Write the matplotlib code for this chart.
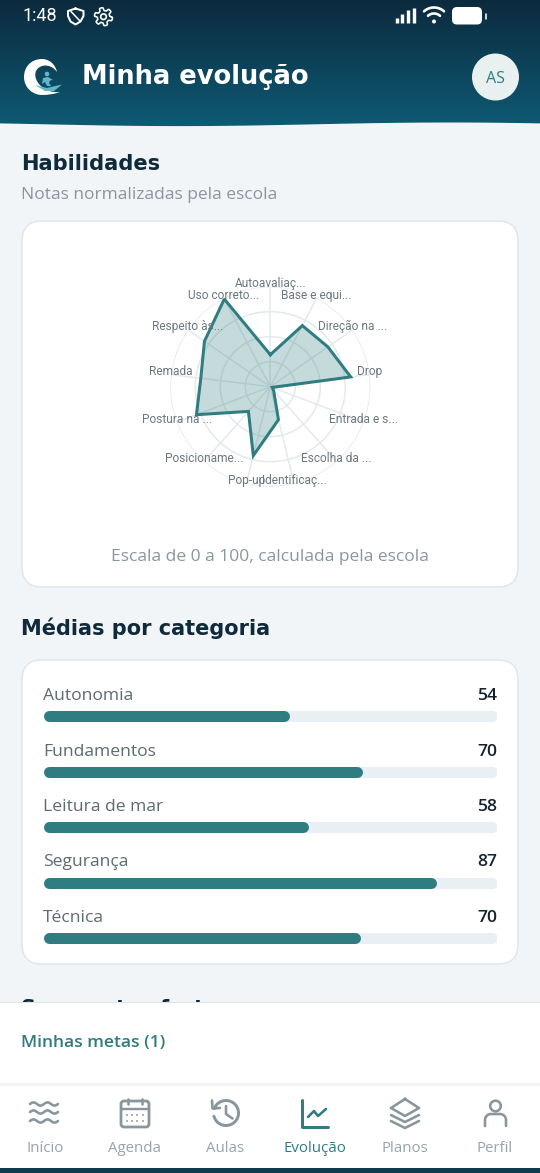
import numpy as np
import matplotlib
matplotlib.use("Agg")
import matplotlib.pyplot as plt
from matplotlib.patches import FancyBboxPatch, Circle, Polygon, Rectangle, PathPatch
from matplotlib.path import Path

# ---------- data ----------
skills = ["Autoavaliaç...", "Base e equi...", "Direção na ...", "Drop", "Entrada e s...",
          "Escolha da ...", "Identificaç...", "Pop-up", "Posicioname...", "Postura na ...",
          "Remada", "Respeito às...", "Uso correto..."]
skill_values = [32, 69, 70, 81, 2, 5, 34, 71, 33, 79, 70, 80, 99]
ring_levels = [25, 50, 75, 100]

categories = ["Autonomia", "Fundamentos", "Leitura de mar", "Segurança", "Técnica"]
category_values = [54.2, 70.4, 58.4, 86.6, 69.8]
category_labels = ["54", "70", "58", "87", "70"]

nav_labels = ["Início", "Agenda", "Aulas", "Evolução", "Planos", "Perfil"]
nav_x = [45, 135, 225, 315, 405, 495]

TEAL = "#2f7d81"
DARK = "#0f2a3a"
GREY = "#8a969d"
W, H = 540, 1173
BG = "#f1f5f8"
HEAD = "DejaVu Sans"

fig = plt.figure(figsize=(W / 100, H / 100), dpi=100, facecolor=BG)
px = 0.72  # points per pixel


def axes_px(x0, y0, x1, y1, **kw):
    return fig.add_axes([x0 / W, 1 - y1 / H, (x1 - x0) / W, (y1 - y0) / H], **kw)


ui = axes_px(0, 0, W, H)
ui.set_xlim(0, W); ui.set_ylim(H, 0); ui.axis("off"); ui.set_zorder(0)

NUDGE = {"Open Sans": 2, "DejaVu Sans": 0.7, "Roboto": 1}


def text(x, y, s, size, color, ha="left", weight="normal", family="Open Sans", z=5):
    return ui.text(x, y + NUDGE[family], s, fontsize=size * px, color=color, ha=ha, va="center",
                   fontweight=weight, family=family, zorder=z)


def card(x0, y0, x1, y1, r=20):
    ui.add_patch(FancyBboxPatch((x0 + r, y0 + r), x1 - x0 - 2 * r, y1 - y0 - 2 * r,
                                boxstyle=f"round,pad={r},rounding_size={r}",
                                fc="white", ec="#e0e6ea", lw=1.1, zorder=1))


def stroke(xs, ys, color, lw=2.0, z=6, cap="round"):
    ui.plot(xs, ys, color=color, lw=lw * px, solid_capstyle=cap, solid_joinstyle="round", zorder=z)


# ---------- header ----------
grad = np.linspace(0, 1, 130)[:, None, None]
c0 = np.array([0x0c, 0x2a, 0x3e])[None, None, :] / 255
c1 = np.array([0x0e, 0x5c, 0x75])[None, None, :] / 255
ui.imshow(c0 * (1 - grad) + c1 * grad, extent=[0, W, 130, 0], aspect="auto", zorder=0.5)
ui.set_xlim(0, W); ui.set_ylim(H, 0)
wx = np.linspace(0, W, 200)
wy = 124.3 + 1.8 * np.sin((wx - 45) / 540 * 2 * np.pi)
ui.fill_between(wx, wy, 135, color=BG, lw=0, zorder=0.7)

text(22, 15, "1:48", 18, "white", family="Roboto")
# shield
ui.plot([75.5, 83.5, 83.5, 80.5, 75.5, 70.5, 68, 68, 75.5],
        [8.5, 11, 16, 21.5, 24.5, 21.5, 16, 11, 8.5], color="white", lw=2 * px, solid_joinstyle="round", zorder=6)
stroke([71, 80], [11.5, 21], "white", 1.5)
# gear
ui.add_patch(Circle((103.5, 16.7), 2.8, fc="none", ec="white", lw=1.7 * px, zorder=6))
ang = np.linspace(0, 2 * np.pi, 145)
rg = 7.6 + 1.5 * np.tanh(3 * np.sin(6 * ang))
stroke(103.5 + rg * np.cos(ang), 16.7 + rg * np.sin(ang), "white", 1.6)
# signal
for i, h in enumerate([5, 9, 13, 15]):
    stroke([396.5 + i * 5.9] * 2, [23 - h, 22.5], "white", 3.4, cap="butt")
# wifi
for r in (15, 9):
    a = np.linspace(np.radians(-132), np.radians(-48), 20)
    stroke(434 + r * np.cos(a), 22.5 + r * np.sin(a), "white", 2.6)
ui.add_patch(Circle((434, 21.5), 2, fc="white", ec="none", zorder=6))
# battery
ui.add_patch(FancyBboxPatch((456, 11), 22, 9.5, boxstyle="round,pad=4,rounding_size=5", fc="white", ec="none", zorder=6))
stroke([486, 486], [13.5, 18.5], "white", 1.6)

# logo
verts = [(57, 72), (55, 63), (48, 59), (42, 59), (31, 59), (24, 67), (24, 77), (24, 88), (33, 95), (42, 95),
         (48, 95), (55, 94), (60, 92), (52, 93), (44, 90), (39, 84),
         (34, 78), (34, 71), (39, 67.5), (44, 64), (52, 65), (57, 72), (57, 72)]
codes = [Path.MOVETO] + [Path.CURVE4] * 21 + [Path.CLOSEPOLY]
ui.add_patch(PathPatch(Path(verts, codes), fc="white", ec="none", zorder=6))
LOGO = "#62b6ca"
ui.add_patch(Circle((47, 74), 2.3, fc=LOGO, ec="none", zorder=7))
ui.add_patch(Polygon([[43, 78], [48, 77], [53, 80], [50, 80.5], [49, 83], [51, 86], [47, 86], [45, 82], [42, 84]],
                     fc=LOGO, ec="none", zorder=7))
ui.add_patch(Polygon([[35, 85], [47, 88], [62, 84.5], [54, 91], [45, 91]], fc=LOGO, ec="none", zorder=7))

text(82, 76.5, "Minha evolução", 25.8, "white", weight="bold", family=HEAD)
ui.add_patch(Circle((495.5, 77), 23.5, fc="#e9f0f0", ec="none", zorder=5))
text(495.5, 77, "AS", 16, TEAL, ha="center")

# ---------- Habilidades ----------
text(21, 163, "Habilidades", 21, DARK, weight="bold", family=HEAD)
text(21, 193, "Notas normalizadas pela escola", 17.4, GREY)
card(22, 221, 518, 587)
text(270, 555, "Escala de 0 a 100, calculada pela escola", 17.4, GREY, ha="center")

cx, cy, R = 270.3, 386.7, 100
radar = axes_px(cx - R, cy - R, cx + R, cy + R, projection="polar")
radar.set_zorder(2)
radar.patch.set_alpha(0)
radar.set_theta_zero_location("N")
radar.set_theta_direction(-1)
radar.set_ylim(0, 100)
theta = np.arange(len(skills)) * 2 * np.pi / len(skills)
radar.set_xticks(theta); radar.set_xticklabels([])
radar.set_yticks(ring_levels); radar.set_yticklabels([])
radar.grid(True, color="#e3e9ec", lw=1.5 * px)
radar.spines["polar"].set_visible(False)
tc = np.r_[theta, theta[0]]
vc = np.r_[skill_values, skill_values[0]]
radar.fill(tc, vc, color=TEAL, alpha=0.28, lw=0, zorder=3)
radar.plot(tc, vc, color=TEAL, lw=3 * px, solid_joinstyle="miter", zorder=4)
for th, lab in zip(theta, skills):
    radar.annotate(lab, (th, 100), xytext=(0, 3 * px), textcoords="offset points",
                   ha="center", va="center", fontsize=11.9 * px, color="#6b7880",
                   family="Roboto", annotation_clip=False, zorder=5)

# ---------- Médias por categoria ----------
text(21, 628, "Médias por categoria", 20.9, DARK, weight="bold", family=HEAD)
card(22, 660, 518, 964)

row_h = 55.5
bars_top = 716 - row_h / 2
bars = axes_px(43.5, bars_top, 497, bars_top + row_h * len(categories))
bars.set_zorder(2)
bars.patch.set_alpha(0)
bars.set_xlim(0, 100)
bars.set_ylim(len(categories), 0)
bars.axis("off")
thick = 11
inset = (thick / 2) / 453.5 * 100
for i, (c, v, l) in enumerate(zip(categories, category_values, category_labels)):
    y = i + 0.5
    bars.plot([inset, 100 - inset], [y, y], color="#e9eff3", lw=thick * px, solid_capstyle="round", zorder=2)
    bars.plot([inset, v - inset], [y, y], color=TEAL, lw=thick * px, solid_capstyle="round", zorder=3)
    ypx = bars_top + y * row_h
    text(43, ypx - 22, c, 17.5, "#5d6b73")
    text(497, ypx - 22, l, 17.5, "#14222c", ha="right", weight="semibold")

# ---------- bottom sheet ----------
text(21, 1008, "Segmentos fortes", 20.9, DARK, weight="bold", family=HEAD, z=3)
ui.add_patch(Rectangle((0, 1002), W, 171, fc="white", ec="none", zorder=4))
ui.plot([0, W], [1002, 1002], color="#dfe5e9", lw=1 * px, zorder=4.5)
text(21, 1041, "Minhas metas (1)", 17.5, TEAL, weight="semibold")
ui.add_patch(Rectangle((0, 1083), W, 3, fc="#f2f5f7", ec="none", zorder=4.5))
ui.add_patch(Rectangle((0, 1168), W, 5, fc="#0e3b4d", ec="none", zorder=4.5))

ICON = "#8a969d"
for x, s in zip(nav_x, nav_labels):
    text(x, 1146, s, 15, TEAL if s == "Evolução" else "#99a3a9", ha="center")

# waves
wv = np.linspace(-14, 14, 60)
for y in (1104, 1112, 1121):
    stroke(44 + wv, y + 1.6 * np.sin(wv / 28 * 4 * np.pi + np.pi), ICON, 2.6)
# calendar
ui.add_patch(FancyBboxPatch((122, 1102), 26, 24, boxstyle="round,pad=1,rounding_size=3", fc="none", ec=ICON, lw=2.8 * px, zorder=6))
stroke([121, 149], [1108.5, 1108.5], ICON, 2.4)
stroke([128, 128], [1098.5, 1104], ICON, 2.6)
stroke([142, 142], [1098.5, 1104], ICON, 2.6)
for yy in (1115, 1121):
    for xx in (127, 132, 137, 143):
        ui.add_patch(Circle((xx, yy), 0.95, fc=ICON, ec="none", zorder=6))
# history
a = np.linspace(np.radians(-160), np.radians(165), 60)
stroke(226 + 12.5 * np.cos(a), 1113 + 12.5 * np.sin(a), ICON, 3)
stroke([226, 226, 232.5], [1106, 1114, 1118.5], ICON, 2.6)
stroke([212, 212.5, 220], [1100.5, 1108.5, 1108], ICON, 2.6)
# chart
stroke([302, 302, 328], [1100, 1126.5, 1126.5], TEAL, 3)
stroke([308, 314, 318, 326], [1117, 1111, 1116, 1109], TEAL, 2.6)
# layers
ui.plot([405, 419, 405, 391, 405], [1099, 1108, 1116, 1108, 1099], color=ICON, lw=2.6 * px, solid_joinstyle="round", zorder=6)
stroke([391, 405, 419], [1115, 1122, 1115], ICON, 2.6)
stroke([391, 405, 419], [1121, 1128, 1121], ICON, 2.6)
# person
ui.add_patch(Circle((495.5, 1106), 5.3, fc="none", ec=ICON, lw=2.6 * px, zorder=6))
a = np.linspace(np.pi, 2 * np.pi, 20)
stroke(np.r_[485, 491 + 6 * np.cos(a[:10]), 500 + 6 * np.cos(a[10:]), 506],
       np.r_[1126, 1120 + 6 * np.sin(a[:10]), 1120 + 6 * np.sin(a[10:]), 1126], ICON, 2.6)

fig.savefig("out.png", dpi=100, facecolor=BG)
